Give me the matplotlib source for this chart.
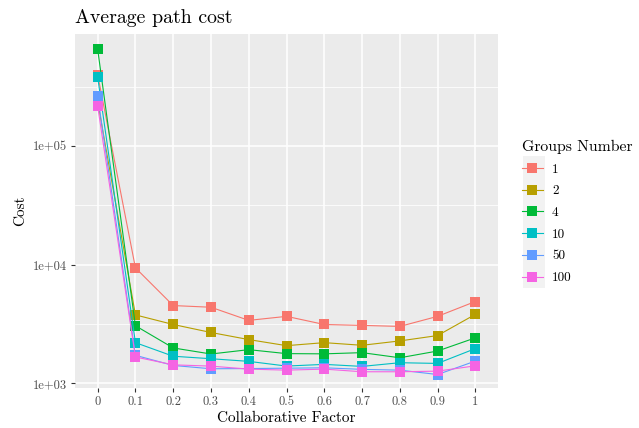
import numpy as np
import matplotlib
matplotlib.use("Agg")
import matplotlib.pyplot as plt
from matplotlib.lines import Line2D
from matplotlib.patches import Rectangle

plt.rcParams['font.family'] = 'serif'
plt.rcParams['font.serif'] = ['cmr10', 'DejaVu Serif']
plt.rcParams['axes.formatter.use_mathtext'] = True

# average path cost per collaborative factor, one series per number of groups
factors = [0, 0.1, 0.2, 0.3, 0.4, 0.5, 0.6, 0.7, 0.8, 0.9, 1]
groups = ["1", "2", "4", "10", "50", "100"]

cost_1 = [400000, 9400, 4520, 4375, 3390, 3665, 3130, 3075, 3015, 3665, 4890]
cost_2 = [237000, 3770, 3130, 2680, 2335, 2075, 2200, 2090, 2275, 2525, 3810]
cost_4 = [656000, 3055, 1985, 1765, 1920, 1778, 1770, 1812, 1640, 1870, 2415]
cost_10 = [382000, 2200, 1690, 1610, 1530, 1396, 1443, 1387, 1490, 1470, 1960]
cost_50 = [264000, 1720, 1413, 1325, 1330, 1340, 1350, 1310, 1290, 1185, 1538]
cost_100 = [217000, 1665, 1430, 1395, 1316, 1290, 1316, 1250, 1250, 1265, 1403]

series = [cost_1, cost_2, cost_4, cost_10, cost_50, cost_100]
colors = ["#F8766D", "#B79F00", "#00BA38", "#00BFC4", "#619CFF", "#F564E3"]

fig = plt.figure(figsize=(6.39, 4.28), dpi=100)
ax = fig.add_axes([75 / 639, 1 - 388 / 428, 423 / 639, 354 / 428])
ax.set_facecolor("#EBEBEB")

for vals, col in zip(series, colors):
    ax.plot(factors, vals, color=col, lw=0.8, marker='s', markersize=6.8,
            markeredgewidth=0, zorder=3)

ax.set_yscale('log')
ax.set_xlim(-0.06, 1.06)
ax.set_ylim(10 ** 2.96, 10 ** 5.945)

ax.set_xticks(factors)
ax.set_xticklabels(["0", "0.1", "0.2", "0.3", "0.4", "0.5", "0.6", "0.7", "0.8", "0.9", "1"])
ax.set_yticks([1e3, 1e4, 1e5])
ax.set_yticklabels(["1e+03", "1e+04", "1e+05"])
ax.set_yticks([10 ** 3.5, 10 ** 4.5, 10 ** 5.5], minor=True)
ax.set_xticks([], minor=True)
ax.tick_params(axis='y', which='minor', length=0)

ax.grid(which='major', color='white', lw=1.1, zorder=0)
ax.grid(which='minor', axis='y', color='white', lw=0.55, zorder=0)
ax.set_axisbelow(True)
for s in ax.spines.values():
    s.set_visible(False)
ax.tick_params(which='major', length=3, width=0.8, color='#333333',
               labelcolor='#4D4D4D', labelsize=9, pad=3)

ax.set_xlabel("Collaborative Factor", fontsize=11, labelpad=2)
ax.set_ylabel("Cost", fontsize=11, labelpad=4)
ax.set_title("Average path cost", fontsize=14.3, loc='left', pad=8)

handles = [Line2D([], [], color=c, lw=0.8, marker='s', markersize=6.8,
                  markeredgewidth=0) for c in colors]
fig.patches.append(Rectangle((523 / 639, 1 - 288 / 428), 22 / 639, 132 / 428,
                             transform=fig.transFigure, facecolor="#F2F2F2",
                             edgecolor='none', zorder=-1))
leg = fig.legend(handles, groups, title="Groups Number", loc='upper left',
                 bbox_to_anchor=(515 / 639, 1 - 133 / 428), frameon=False,
                 fontsize=9.5, title_fontsize=11.3, handlelength=1.6,
                 handletextpad=0.7, labelspacing=0.72, borderpad=0)
leg._legend_box.align = "left"

fig.savefig("out.png", dpi=100)
